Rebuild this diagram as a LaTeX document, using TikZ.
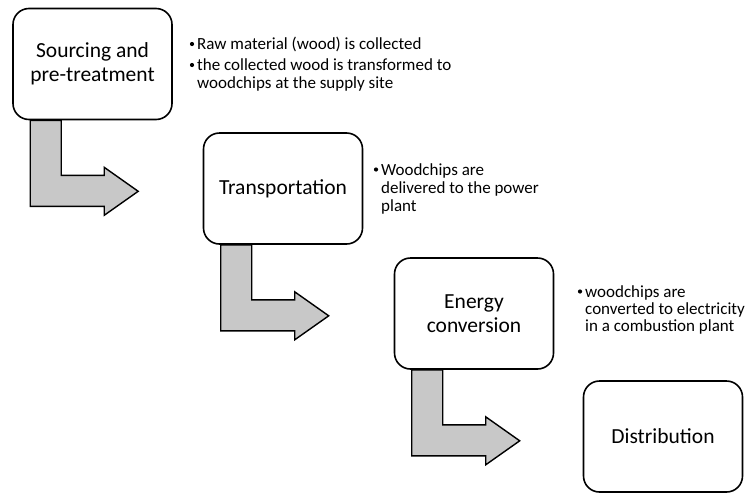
\documentclass[tikz,border=0pt]{standalone}
\usepackage{fontspec}
\setmainfont{Carlito}
\usetikzlibrary{calc}
\definecolor{arrowgray}{HTML}{C8C8C8}
\tikzset{
  stagebox/.style={draw=black, line width=1.6pt, rounded corners=16pt, fill=white,
    minimum width=159pt, minimum height=111pt, align=center, inner sep=0pt,
    font=\fontsize{21.5}{24}\selectfont},
  bentarrow/.style={draw=black, line width=1.4pt, fill=arrowgray, line join=miter},
  bullettext/.style={anchor=base west, inner sep=0pt, font=\fontsize{17}{17.5}\selectfont},
  bulletdot/.style={circle, fill=black, inner sep=0pt, minimum size=4.2pt}
}
\begin{document}
\begin{tikzpicture}[x=1pt, y=-1pt]
\useasboundingbox (0,0) rectangle (746,493);
% stage boxes
\node[stagebox] (b1) at (92.5,64) {Sourcing and\\pre-treatment};
\node[stagebox] (b2) at (283,188.5) {Transportation};
\node[stagebox] (b3) at (474,313.5) {Energy\\conversion};
\node[stagebox] (b4) at (663,436.5) {Distribution};
% bent block arrows
\foreach \b in {b1,b2,b3}{
  \draw[bentarrow] ($(\b.south west)+(18,0)$) -- ($(\b.south west)+(49,0)$)
    -- ($(\b.south west)+(49,55)$) -- ($(\b.south west)+(92,55)$)
    -- ($(\b.south west)+(92,47)$) -- ($(\b.south west)+(126,71)$)
    -- ($(\b.south west)+(92,95)$) -- ($(\b.south west)+(92,86)$)
    -- ($(\b.south west)+(18,86)$) -- cycle;
}
% bullet texts
\node[bulletdot] (d1a) at (192,44) {};
\node[bullettext] (t1a) at (197,49.5) {Raw material (wood) is collected};
\node[bulletdot] (d1b) at (192,65) {};
\node[bullettext] (t1b) at (197,70.5) {the collected wood is transformed to};
\node[bullettext] (t1c) at (197,88) {woodchips at the supply site};
\node[bulletdot] (d2a) at (376,169.5) {};
\node[bullettext] (t2a) at (381,175) {Woodchips are};
\node[bullettext] (t2b) at (381,193) {delivered to the power};
\node[bullettext] (t2c) at (381,211) {plant};
\node[bulletdot] (d3a) at (580,291.5) {};
\node[bullettext] (t3a) at (585,297) {woodchips are};
\node[bullettext] (t3b) at (585,314) {converted to electricity};
\node[bullettext] (t3c) at (585,331) {in a combustion plant};
\end{tikzpicture}
\end{document}
